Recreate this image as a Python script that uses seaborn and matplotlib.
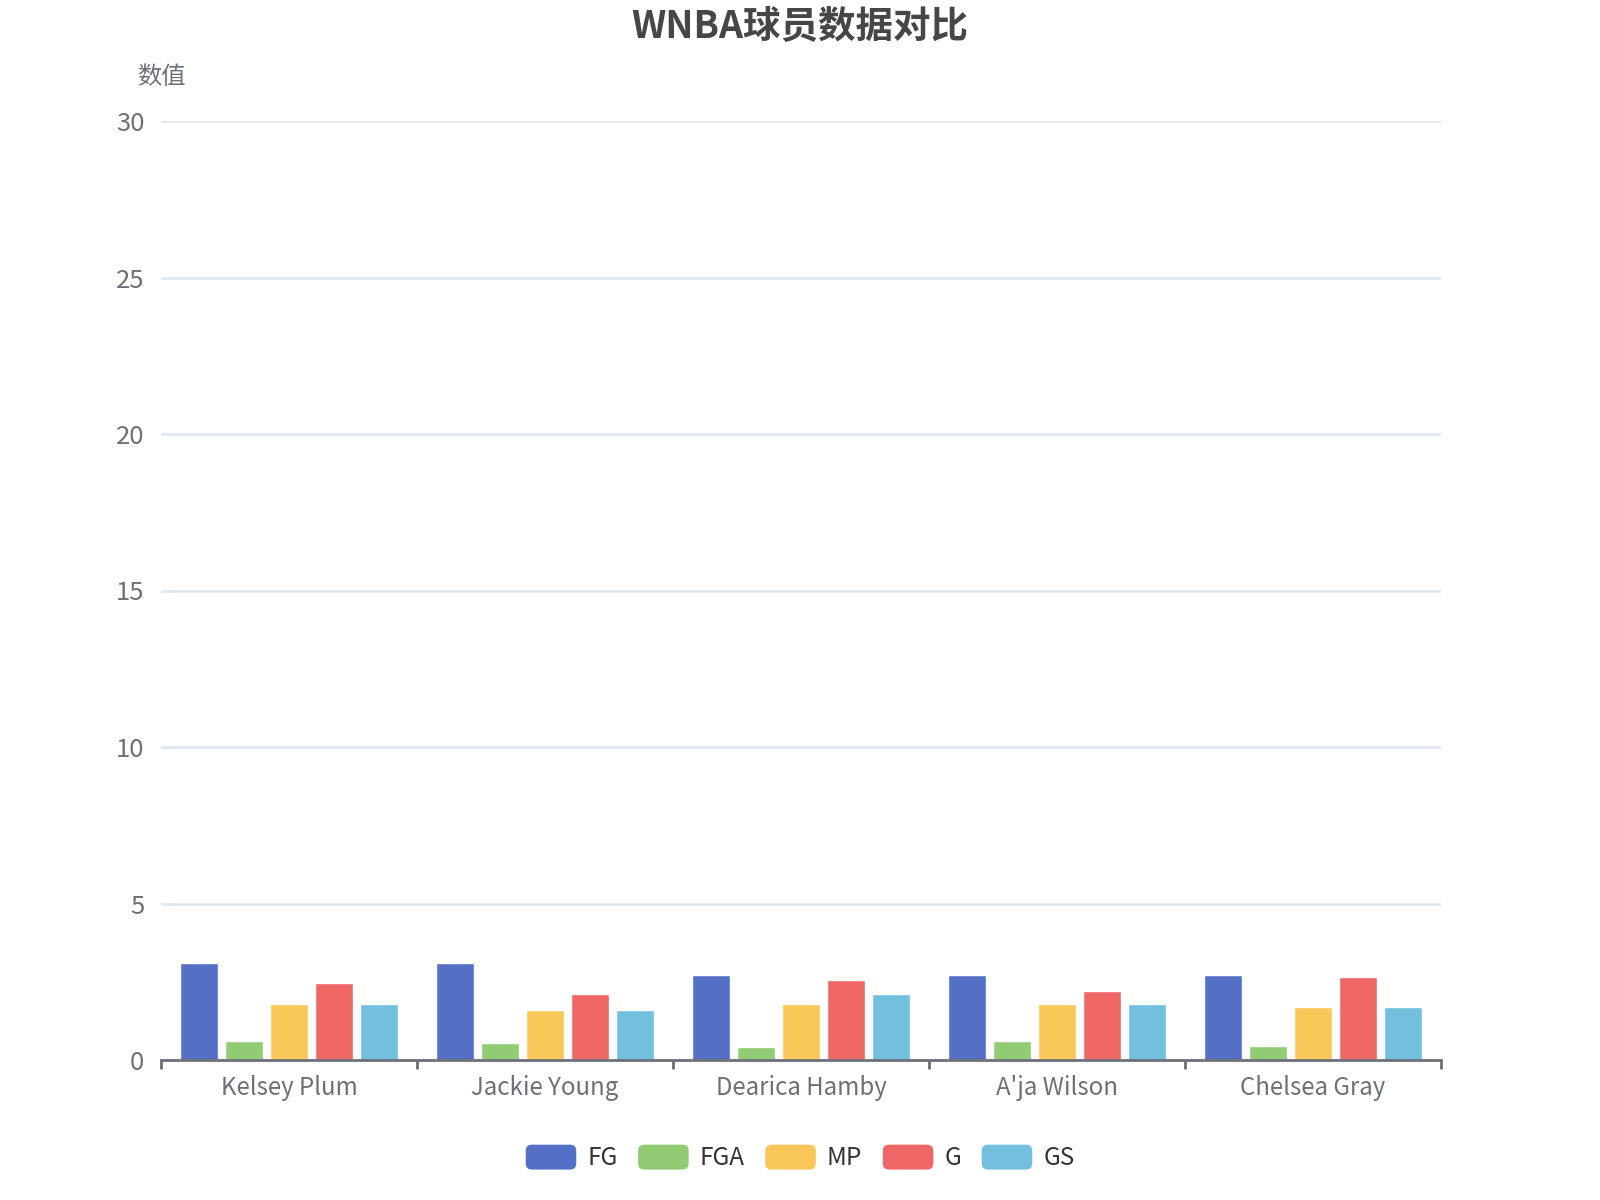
import numpy as np
import pandas as pd
import seaborn as sns
import matplotlib
matplotlib.use("Agg")
import matplotlib.pyplot as plt
from matplotlib.patches import FancyBboxPatch, Patch
from matplotlib.legend_handler import HandlerPatch

players = ["Kelsey Plum", "Jackie Young", "Dearica Hamby", "A'ja Wilson", "Chelsea Gray"]
metrics = ["FG", "FGA", "MP", "G", "GS"]
fg = [3.1, 3.1, 2.7, 2.7, 2.7]
fga = [0.6, 0.55, 0.4, 0.6, 0.45]
mp = [1.8, 1.6, 1.8, 1.8, 1.7]
g = [2.45, 2.1, 2.55, 2.2, 2.65]
gs = [1.8, 1.6, 2.1, 1.8, 1.7]
colors = ["#5470c6", "#91cc75", "#fac858", "#ee6666", "#73c0de"]

series = {"FG": fg, "FGA": fga, "MP": mp, "G": g, "GS": gs}
rows = []
for m in metrics:
    for p, v in zip(players, series[m]):
        rows.append({"player": p, "metric": m, "value": v})
df = pd.DataFrame(rows)

sns.set_theme(style="white")
plt.rcParams["font.family"] = ["Noto Sans CJK SC", "DejaVu Sans"]

fig = plt.figure(figsize=(16, 12), dpi=100)
ax = fig.add_axes([161 / 1600, 1 - 1060 / 1200, 1280 / 1600, (1060 - 121) / 1200])

sns.barplot(data=df, x="player", y="value", hue="metric", order=players,
            hue_order=metrics, palette=colors, width=0.88, gap=0.16,
            ax=ax, legend=False, errorbar=None, saturation=1)

ax.set_ylim(0, 30)
ax.set_xlim(-0.5, len(players) - 0.5)
ax.set_yticks([0, 5, 10, 15, 20, 25, 30])
ax.yaxis.grid(True, color="#e0e6f1", linewidth=1.8)
ax.set_axisbelow(True)
ax.xaxis.grid(False)
for s in ["top", "right", "left"]:
    ax.spines[s].set_visible(False)
ax.spines["bottom"].set_color("#6e7079")
ax.spines["bottom"].set_linewidth(2)

ax.set_xticks(range(len(players)))
ax.set_xticklabels(players)
ax.set_xticks(np.arange(-0.5, len(players), 1.0), minor=True)
ax.tick_params(axis="x", which="major", length=0, pad=11, labelsize=17.3, labelcolor="#6e7079")
ax.tick_params(axis="x", which="minor", length=6.5, width=2, color="#6e7079", bottom=True)
ax.tick_params(axis="y", length=0, pad=12, labelsize=18.5, labelcolor="#6e7079")
ax.set_xlabel("")
ax.set_ylabel("")

fig.text(161 / 1600, 1 - 77 / 1200, "数值", ha="center", va="center",
         fontsize=17.5, color="#6e7079")
fig.text(0.5, 1 - 27 / 1200, "WNBA球员数据对比", ha="center", va="center",
         fontsize=27, fontweight="bold", color="#464646")


class RoundHandler(HandlerPatch):
    def create_artists(self, legend, orig_handle, xdescent, ydescent, width, height, fontsize, trans):
        p = FancyBboxPatch((-xdescent, -ydescent), width, height,
                           boxstyle="round,pad=0,rounding_size=%f" % (height * 0.25),
                           facecolor=orig_handle.get_facecolor(), edgecolor="none",
                           transform=trans)
        return [p]


handles = [Patch(facecolor=c, label=m) for c, m in zip(colors, metrics)]
leg = fig.legend(handles=handles, loc="center", bbox_to_anchor=(0.5, 1 - 1158 / 1200),
                 ncol=5, frameon=False, fontsize=17.5, handlelength=2.08, handleheight=1.2,
                 handletextpad=0.45, columnspacing=0.85,
                 handler_map={Patch: RoundHandler()})
for t in leg.get_texts():
    t.set_color("#333333")

fig.savefig("out.png", dpi=100, facecolor="white")
